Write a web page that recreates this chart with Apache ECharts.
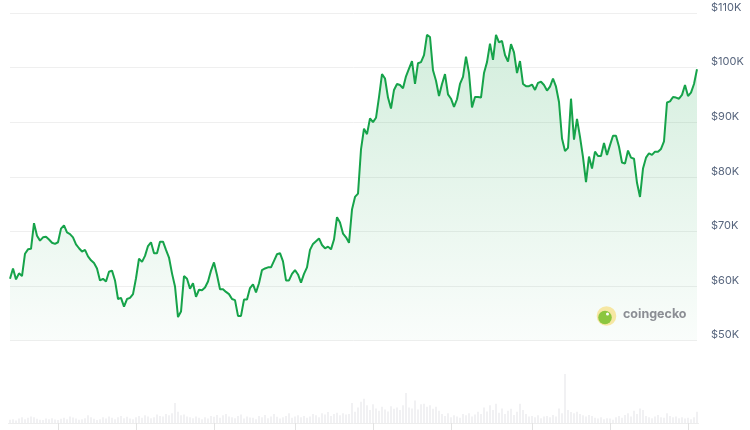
<!DOCTYPE html>
<html><head><meta charset="utf-8">
<script src="https://cdn.jsdelivr.net/npm/echarts/dist/echarts.min.js"></script>
<style>html,body{margin:0;padding:0;background:#fff}#c{width:750px;height:430px}</style>
</head><body><div id="c"></div>
<script>
// Price in thousands of USD
const prices = [
  61.3, 63.2, 61.2, 62.3, 61.8, 65.9, 66.7, 66.8, 71.5, 69.2,
  68.3, 68.9, 69.0, 68.5, 67.9, 67.7, 68.0, 70.5, 71.1, 69.8,
  69.5, 68.9, 67.6, 66.9, 66.3, 66.6, 65.4, 64.7, 64.2, 63.2,
  61.0, 61.3, 60.8, 62.6, 62.8, 61.0, 57.6, 57.8, 56.2, 57.6,
  57.8, 58.5, 61.4, 65.0,
  64.4, 65.5, 67.3, 68.0, 66.0, 66.0, 68.1, 68.1, 66.6, 65.2,
  62.3, 59.9, 54.3, 55.3, 61.8, 61.3, 59.5, 60.5, 58.0, 59.3,
  59.2, 59.7, 60.8, 62.8, 64.3, 62.0, 59.4, 59.4, 58.9, 58.5,
  57.6, 57.4, 54.5, 54.5, 57.5, 57.5, 59.6, 60.3, 58.8, 60.5,
  62.9, 63.2, 63.4, 63.4, 64.6,
  65.8, 66.0, 64.5, 61.0, 61.0, 62.2, 62.9, 62.1, 60.6, 62.2,
  63.4, 66.6, 67.7, 68.2, 68.7, 67.5, 66.9, 67.2, 66.7, 68.5,
  72.6, 71.6, 69.6, 68.9, 67.9, 74.0, 76.3, 76.9, 85.0, 88.8,
  87.8, 90.7, 90.0, 90.8, 94.6, 98.8, 98.0, 94.5, 92.5, 95.9,
  97.0, 96.8, 96.2, 98.4, 99.8,
  101.2, 97.0, 100.8, 101.0, 102.3, 106.0, 105.6, 99.5, 97.6, 94.8,
  97.0, 98.8, 95.1, 94.3, 92.8, 94.2, 97.0, 98.3, 102.0, 99.0,
  92.7, 94.6, 94.6, 94.5, 99.0, 101.0, 104.4, 101.4, 106.0, 104.6,
  104.9, 102.3, 101.1, 104.3, 102.8, 99.0, 101.2, 97.0, 96.6, 96.6,
  96.9, 95.9, 97.2, 97.4, 96.8, 95.8, 96.5, 98.0,
  96.5, 93.7, 87.0, 84.7, 85.3, 94.3, 86.8, 90.6, 87.3, 83.6,
  79.0, 83.7, 81.5, 84.6, 83.8, 83.8, 86.2, 84.0, 85.8, 87.5,
  87.5, 85.5, 82.6, 82.4, 84.8, 83.5, 83.3, 78.9, 76.3, 81.5,
  83.5, 84.3, 84.0, 84.6, 84.6, 85.1, 86.5, 93.6, 93.8, 94.6,
  94.5, 94.3, 95.0, 96.8, 94.8, 95.4, 97.0, 99.7
];
// Relative trading volume
const volumes = [
  10, 12, 8, 14, 18, 12, 16, 20, 18, 13,
  10, 9, 14, 12, 15, 11, 9, 13, 16, 12,
  20, 17, 14, 10, 12, 15, 24, 18, 13, 9,
  12, 18, 14, 20, 16, 12, 18, 22, 15, 19,
  14, 12, 18, 22, 16, 24, 20, 15, 18, 26,
  22, 20, 28, 24, 30, 62, 35, 24, 26, 20,
  18, 15, 20, 16, 12, 18, 14, 22, 19, 25,
  16, 24, 28, 20, 18, 15, 22, 26, 14, 20,
  17, 16, 12, 22, 18, 25, 15, 20, 28, 19,
  14, 18, 22, 30, 16, 20, 24, 18, 22, 16,
  20, 28, 24, 18, 30, 26, 34, 22, 28, 32,
  24, 30, 26, 28, 62, 35, 48, 66, 75, 55,
  40, 58, 45, 38, 50, 42, 36, 52, 44, 48,
  40, 55, 93, 48, 45, 70, 42, 58, 60, 50,
  55, 44, 50, 38, 28, 22, 30, 18, 24, 20,
  16, 28, 24, 30, 20, 26, 35, 28, 48, 36,
  55, 40, 60, 32, 45, 28, 38, 44, 25, 35,
  60, 40, 28, 20, 22, 18, 24, 15, 20, 22,
  18, 25, 20, 45, 30, 152, 40, 34, 30, 35,
  28, 24, 20, 25, 22, 16, 14, 18, 12, 15,
  14, 10, 18, 22, 16, 25, 30, 20, 38, 28,
  45, 40, 22, 18, 15, 20, 25, 18, 16, 30,
  22, 18, 20, 15, 18, 14, 16, 12, 18, 35
];
const days = prices.map((_, i) => 'Day ' + (i + 1));
const priceMin = 50, priceMax = 110, priceStep = 10;
const volumeTickIdx = [16, 42, 68, 95, 121, 147, 174, 200, 226];
const watermarkText = 'coingecko';

const chart = echarts.init(document.getElementById('c'), null, { renderer: 'canvas' });
chart.setOption({
  animation: false,
  backgroundColor: '#ffffff',
  grid: [
    { left: 10, right: 53, top: 13, bottom: 89.5 },
    { left: 8.5, right: 51.5, top: 373, bottom: 7 }
  ],
  xAxis: [
    { type: 'category', gridIndex: 0, data: days, boundaryGap: false, show: false },
    {
      type: 'category', gridIndex: 1, data: days, boundaryGap: true,
      axisLabel: { show: false },
      axisLine: { show: true, lineStyle: { color: '#ededed' } },
      axisTick: { show: true, alignWithLabel: true, length: 7,
        interval: (i) => volumeTickIdx.includes(i),
        lineStyle: { color: '#e2e2e2' } },
      splitLine: { show: false }
    }
  ],
  yAxis: [
    {
      type: 'value', gridIndex: 0, position: 'right',
      min: priceMin, max: priceMax, interval: priceStep,
      axisLine: { show: false }, axisTick: { show: false },
      splitLine: { lineStyle: { color: '#efefef', width: 1 } },
      axisLabel: {
        margin: 14, formatter: v => '$' + v + 'K', color: '#58667e',
        fontSize: 11, fontFamily: 'Inter', verticalAlign: 'bottom', lineHeight: 11
      }
    },
    { type: 'value', gridIndex: 1, min: 0, max: 155, show: false }
  ],
  series: [
    {
      type: 'line', data: prices, xAxisIndex: 0, yAxisIndex: 0,
      showSymbol: false, smooth: false,
      lineStyle: { color: '#16a34a', width: 2 },
      areaStyle: {
        origin: 'start',
        color: new echarts.graphic.LinearGradient(0, 0, 0, 1, [
          { offset: 0, color: 'rgba(22,163,74,0.27)' },
          { offset: 1, color: 'rgba(22,163,74,0.03)' }
        ])
      }
    },
    {
      type: 'bar', data: volumes, xAxisIndex: 1, yAxisIndex: 1,
      barWidth: 1, itemStyle: { color: '#e3e4e8' }
    }
  ],
  graphic: [
    { type: 'circle', shape: { cx: 606.5, cy: 316, r: 9.8 }, style: { fill: '#f6e7a3' }, z: 10 },
    { type: 'circle', shape: { cx: 605, cy: 317.5, r: 6.8 }, style: { fill: '#8cc63f' }, z: 11 },
    { type: 'circle', shape: { cx: 607.5, cy: 314, r: 1.5 }, style: { fill: '#ffffff' }, z: 12 },
    { type: 'text', left: 623, top: 308, z: 10,
      style: { text: watermarkText, font: 'bold 12.5px Inter', fill: '#8b8e94' } }
  ]
});
</script>
</body></html>
